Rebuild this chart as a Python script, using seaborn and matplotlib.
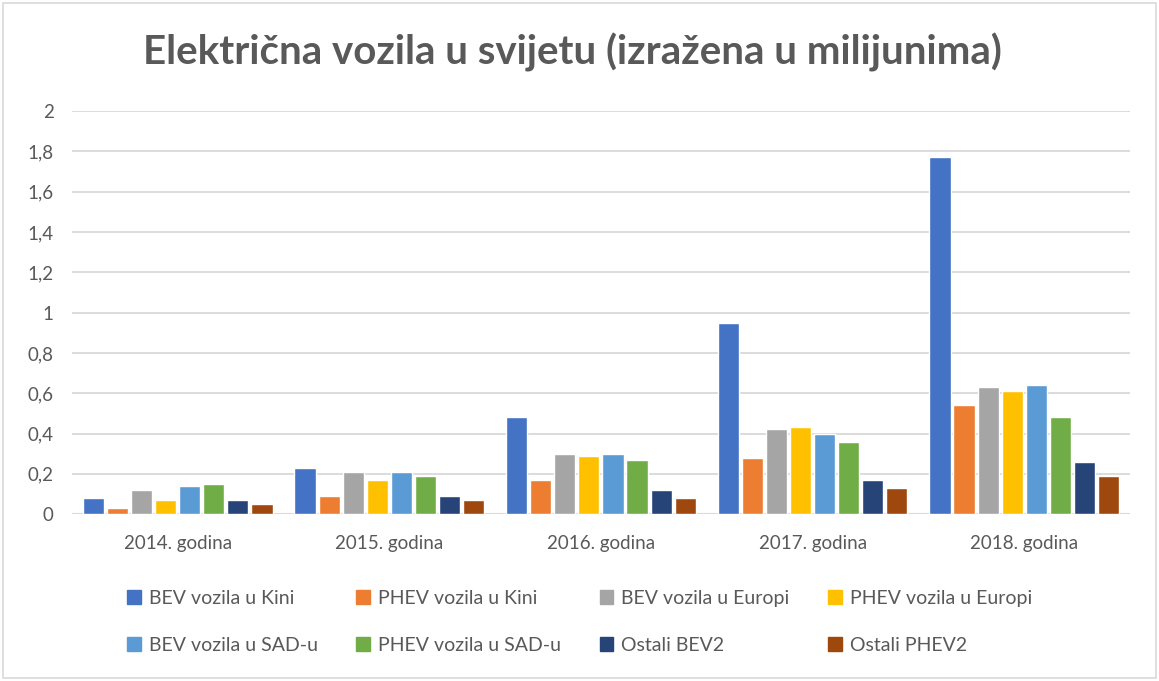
import matplotlib
matplotlib.use("Agg")
import matplotlib.pyplot as plt
from matplotlib.patches import Rectangle
from matplotlib.ticker import FuncFormatter
import pandas as pd
import seaborn as sns

godine = ["2014. godina", "2015. godina", "2016. godina", "2017. godina", "2018. godina"]
serije = ["BEV vozila u Kini", "PHEV vozila u Kini", "BEV vozila u Europi", "PHEV vozila u Europi",
          "BEV vozila u SAD-u", "PHEV vozila u SAD-u", "Ostali BEV2", "Ostali PHEV2"]

bev_kina = [0.08, 0.23, 0.48, 0.95, 1.77]
phev_kina = [0.03, 0.09, 0.17, 0.28, 0.54]
bev_europa = [0.12, 0.21, 0.30, 0.42, 0.63]
phev_europa = [0.07, 0.17, 0.29, 0.43, 0.61]
bev_sad = [0.14, 0.21, 0.30, 0.40, 0.64]
phev_sad = [0.15, 0.19, 0.27, 0.36, 0.48]
ostali_bev = [0.07, 0.09, 0.12, 0.17, 0.26]
ostali_phev = [0.05, 0.07, 0.08, 0.13, 0.19]

boje = ["#4472C4", "#ED7D31", "#A5A5A5", "#FFC000", "#5B9BD5", "#70AD47", "#264478", "#9E480E"]

vrijednosti = [bev_kina, phev_kina, bev_europa, phev_europa, bev_sad, phev_sad, ostali_bev, ostali_phev]
rows = []
for s, vals in zip(serije, vrijednosti):
    for g, v in zip(godine, vals):
        rows.append({"godina": g, "serija": s, "vrijednost": v})
df = pd.DataFrame(rows)

sns.set_style("white")
plt.rcParams["font.family"] = ["Lato", "DejaVu Sans"]

fig = plt.figure(figsize=(11.59, 6.81), dpi=100)
ax = fig.add_axes([0.062, 0.245, 0.913, 0.592])

sns.barplot(data=df, x="godina", y="vrijednost", hue="serija", hue_order=serije,
            palette=boje, width=0.91, gap=0.12, saturation=1, ax=ax, legend=False, zorder=3)

ax.set_ylim(0, 2)
ax.set_yticks([i * 0.2 for i in range(11)])
ax.yaxis.set_major_formatter(FuncFormatter(lambda v, p: f"{v:g}".replace(".", ",")))
ax.grid(axis="y", color="#D9D9D9", linewidth=1.3, zorder=0)
ax.set_axisbelow(True)
for sp in ax.spines.values():
    sp.set_visible(False)
ax.axhline(0, color="#D9D9D9", linewidth=1.5, zorder=2)
ax.set_xlabel("")
ax.set_ylabel("")
ax.tick_params(axis="both", length=0, labelsize=13.5, labelcolor="#595959")
ax.tick_params(axis="y", pad=13)
ax.tick_params(axis="x", pad=15)

fig.suptitle("Električna vozila u svijetu (izražena u milijunima)", x=0.494, y=0.952,
             fontsize=29, fontweight="bold", color="#595959")

# matplotlib fills legend columns first, so reorder to read row by row
red = [0, 4, 1, 5, 2, 6, 3, 7]
handles = [Rectangle((0, 0), 1, 1, color=boje[i]) for i in red]
labels = [serije[i] for i in red]
fig.legend(handles, labels, loc="center", bbox_to_anchor=(0.5, 0.087), ncol=4, frameon=False,
           fontsize=14, labelcolor="#595959", handlelength=0.7, handleheight=0.7,
           handletextpad=0.4, columnspacing=2.0, labelspacing=1.55)

fig.patches.append(Rectangle((0.003, 0.004), 0.994, 0.992, transform=fig.transFigure,
                             fill=False, edgecolor="#D9D9D9", linewidth=1.2))

fig.savefig("out.png", dpi=100, facecolor="white")
